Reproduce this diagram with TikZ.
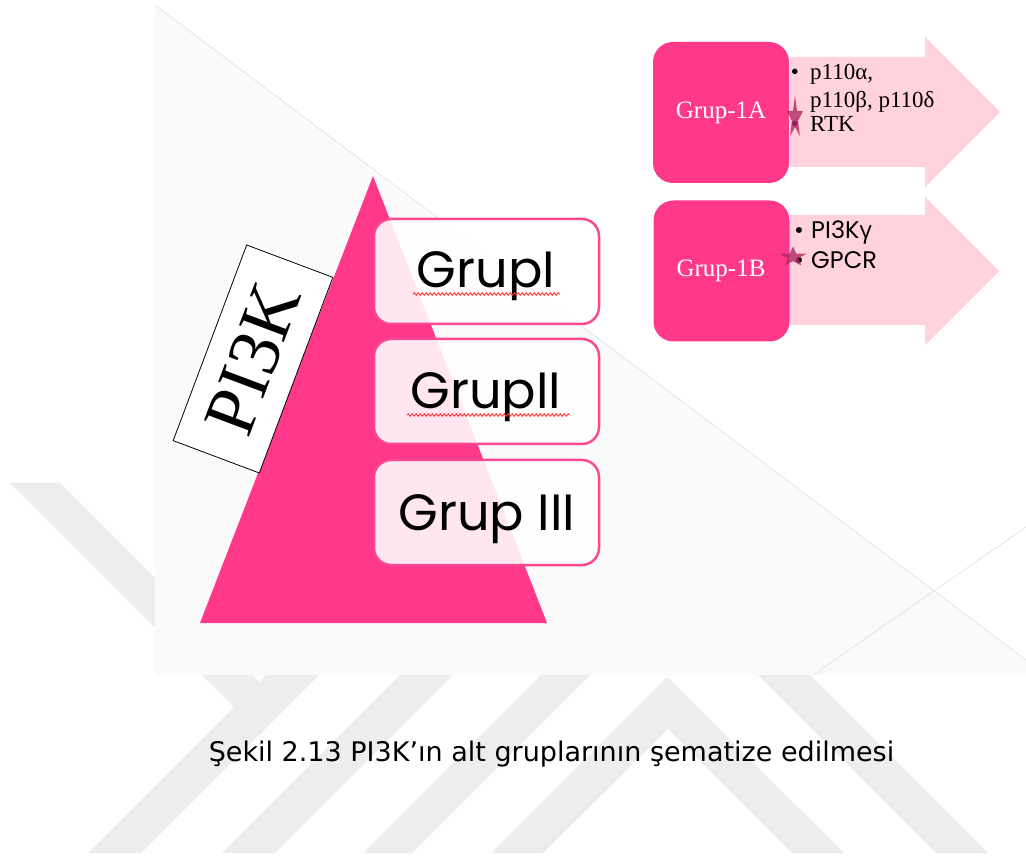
\documentclass[tikz,border=0pt]{standalone}
\usepackage{fontspec}
\usetikzlibrary{shapes.geometric,decorations.pathmorphing}
\setmainfont{Liberation Serif}
\newfontfamily\gothic{Poppins}
\newfontfamily\greek{Open Sans}
\newfontfamily\capfont{DejaVu Sans}

\definecolor{hotpink}{RGB}{255,56,138}
\definecolor{boxpink}{RGB}{255,72,146}
\definecolor{lightpink}{RGB}{255,210,222}
\definecolor{starpink}{RGB}{176,40,100}
\definecolor{panelgray}{RGB}{250,250,250}
\definecolor{wmgray}{RGB}{237,237,237}
\definecolor{faintline}{RGB}{228,228,228}

\tikzset{
  grupbox/.style={draw=boxpink, line width=2.5pt, fill=white, fill opacity=0.88,
    rounded corners=17pt, minimum width=225pt, minimum height=105pt, inner sep=0pt},
  gruptext/.style={font=\gothic\fontsize{51}{51}\selectfont, inner sep=0pt, anchor=base},
  classbox/.style={fill=hotpink, rounded corners=20pt, minimum width=136pt,
    minimum height=141pt, inner sep=0pt},
  classtext/.style={font=\fontsize{25}{25}\selectfont, text=white, inner sep=0pt, anchor=base},
  itemtext/.style={font=\fontsize{23}{23}\selectfont, inner sep=0pt, anchor=base west},
  itemsans/.style={font=\gothic\fontsize{24}{24}\selectfont, inner sep=0pt, anchor=base west},
  pinkstar/.style={star, star points=5, star point ratio=2.5, fill=starpink,
    fill opacity=0.8, inner sep=0pt, minimum size=#1},
  squiggle/.style={draw=red!80, line width=0.9pt,
    decorate, decoration={snake, amplitude=1.2pt, segment length=4pt}},
  band/.style={fill=wmgray}
}

\begin{document}
\begin{tikzpicture}[x=1pt,y=-1pt]
\useasboundingbox (0,0) rectangle (1026,858);

 % watermark stripes
 \fill[band] (10,483) -- (60,483) -- (262,685) -- (262,735) -- cycle;
 \fill[band] (88,853) -- (141,853) -- (511,483) -- (458,483) -- cycle;
 \fill[band] (222,853) -- (275,853) -- (645,483) -- (592,483) -- cycle;
 \fill[band] (363,853) -- (412,853) -- (782,483) -- (733,483) -- cycle;
 \fill[band] (491,853) -- (667,677) -- (844,853) -- (792,853) -- (668,729) -- (543,853) -- cycle;
 \fill[band] (936,853) -- (988,853) -- (735,600) -- (683,600) -- cycle;

 % Draw background panel
 \fill[panelgray] (155,5) -- (1026,660) -- (1026,675) -- (155,675) -- cycle;
 \draw[faintline, line width=0.8pt] (155,5) -- (1026,660);
 \draw[faintline, line width=0.8pt] (813,675) -- (1026,527);

 % Draw pyramid
 \coordinate (apex) at (373,176);
 \coordinate (baseL) at (200,623);
 \coordinate (baseR) at (547,623);
 \fill[hotpink] (apex) -- (baseR) -- (baseL) -- cycle;

 % rotated title along the pyramid
 \node[draw=black, line width=0.8pt, fill=white, rotate=69.4, minimum width=209pt,
   minimum height=92pt, inner sep=0pt, font=\fontsize{73}{73}\selectfont] (pik) at (253,359) {PI3K};

 % three groups
 \node[grupbox] (g1) at (486.5,271.5) {};
 \node[grupbox] (g2) at (486.5,391.5) {};
 \node[grupbox] (g3) at (486.5,512.5) {};
 \node[gruptext] (t1) at (486,288) {GrupI};
 \node[gruptext] (t2) at (486,409) {GrupII};
 \node[gruptext] (t3) at (487,530) {Grup III};
 \draw[squiggle] (413,294) -- (560,294);
 \draw[squiggle] (407,415) -- (570,415);

 % Draw the two arrows
 \fill[lightpink] (790,57) -- (925,57) -- (925,37) -- (1000,112) -- (925,187) -- (925,167) -- (790,167) -- cycle;
 \fill[lightpink] (790,215) -- (925,215) -- (925,197) -- (999,271) -- (925,345) -- (925,325) -- (790,325) -- cycle;

 % class I boxes
 \node[classbox] (c1a) at (721,112.5) {};
 \node[classbox] (c1b) at (721.5,271) {};
 \node[classtext] at (721,119) {Grup-1A};
 \node[classtext] at (721,277) {Grup-1B};

 % members of each class
 \node[itemtext, anchor=base] at (795,80) {\textbullet};
 \node[itemtext] (a1) at (810,80) {p110α,};
 \node[itemtext] (a2) at (810,108) {p110β, p110δ};
 \node[itemtext, anchor=base] at (795,132) {\textbullet};
 \node[itemtext] (a3) at (810,132) {RTK};

 \node[itemsans, anchor=base] at (799,239) {\textbullet};
 \node[itemsans] (b1) at (811,239) {PI3K{\greek γ}};
 \node[itemsans, anchor=base] at (799,269) {\textbullet};
 \node[itemsans] (b2) at (811,269) {GPCR};

 \node[pinkstar=45pt, xscale=0.37] (s1) at (795,118) {};
 \node[pinkstar=21pt, xscale=1.35] (s2) at (793,257) {};

 % caption
 \node[font=\capfont\fontsize{27}{30}\selectfont, inner sep=0pt, anchor=base] (cap) at (551.5,761)
   {Şekil 2.13 PI3K’ın alt gruplarının şematize edilmesi};

\end{tikzpicture}
\end{document}
